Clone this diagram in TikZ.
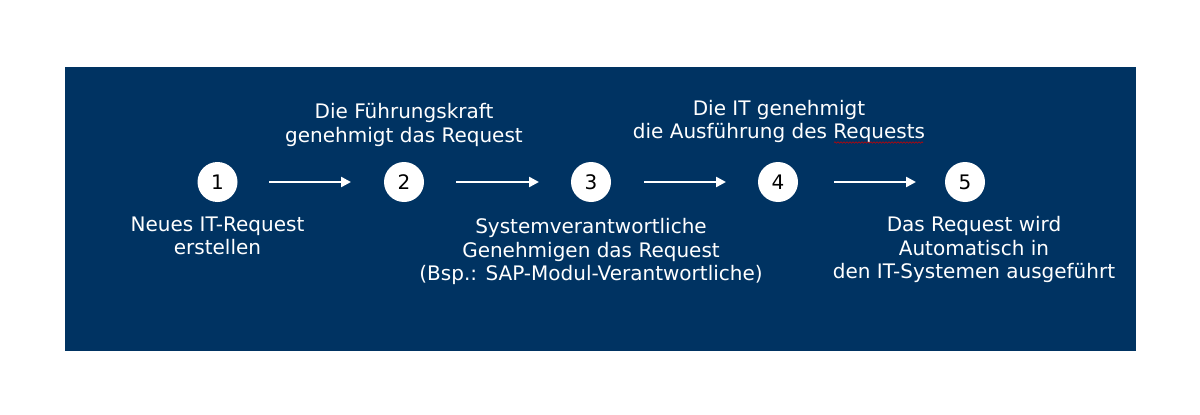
\documentclass[tikz,border=0pt]{standalone}
\usepackage{fontspec}
\setmainfont{DejaVu Sans}
\usetikzlibrary{arrows.meta,decorations.pathmorphing}
\definecolor{panelblue}{RGB}{0,51,98}
\begin{document}
\begin{tikzpicture}[x=1pt,y=-1pt,
  stepcircle/.style={circle,fill=white,draw=none,minimum size=40pt,inner sep=0pt,font=\fontsize{20}{23}\selectfont,text=black},
  steplabel/.style={text=white,align=center,font=\fontsize{20}{23.5}\selectfont,inner sep=0pt,anchor=base},
  flowarrow/.style={draw=white,line width=2.4pt,-{Triangle[length=10pt,width=10pt]}}]
\useasboundingbox (0,0) rectangle (1200,415);
\fill[white] (0,0) rectangle (1200,415);
\fill[panelblue] (65,67) rectangle (1136,351);
\node[stepcircle] (c1) at (217.5,182) {1};
\node[stepcircle] (c2) at (404,182) {2};
\node[stepcircle] (c3) at (591,182) {3};
\node[stepcircle] (c4) at (778,182) {4};
\node[stepcircle] (c5) at (965,182) {5};
\coordinate (a1s) at (269,182); \coordinate (a1e) at (351,182);
\coordinate (a2s) at (456,182); \coordinate (a2e) at (539,182);
\coordinate (a3s) at (644,182); \coordinate (a3e) at (726,182);
\coordinate (a4s) at (834,182); \coordinate (a4e) at (916,182);
\draw[flowarrow] (a1s) -- (a1e);
\draw[flowarrow] (a2s) -- (a2e);
\draw[flowarrow] (a3s) -- (a3e);
\draw[flowarrow] (a4s) -- (a4e);
\node[steplabel] (t1) at (217.5,254.5) {Neues IT-Request\\erstellen};
\node[steplabel] (t2) at (404,142) {Die Führungskraft\\genehmigt das Request};
\node[steplabel] (t3) at (591,280.5) {Systemverantwortliche\\Genehmigen das Request\\(Bsp.: SAP-Modul-Verantwortliche)};
\node[steplabel] (t4) at (779,138.5) {Die IT genehmigt\\die Ausführung des Requests};
\node[steplabel] (t5) at (974,278.5) {Das Request wird\\Automatisch in\\den IT-Systemen ausgeführt};
\draw[red!80!black,line width=0.6pt,decorate,decoration={snake,amplitude=0.7pt,segment length=3pt}] (834,142.5) -- (923,142.5);
\end{tikzpicture}
\end{document}
